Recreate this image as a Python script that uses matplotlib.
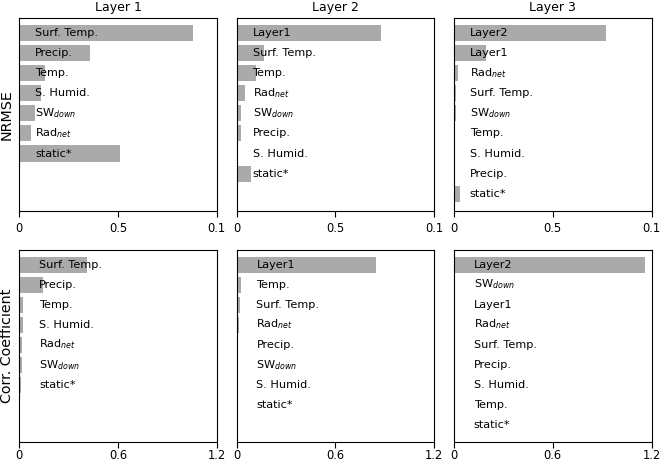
import matplotlib
matplotlib.use('Agg')
import matplotlib.pyplot as plt

# NRMSE per layer (top row), bars listed top to bottom
nrmse_labels_1 = ['Surf. Temp.', 'Precip.', 'Temp.', 'S. Humid.', r'SW$_{down}$', r'Rad$_{net}$', 'static*']
nrmse_values_1 = [0.88, 0.36, 0.13, 0.11, 0.08, 0.06, 0.51]

nrmse_labels_2 = ['Layer1', 'Surf. Temp.', 'Temp.', r'Rad$_{net}$', r'SW$_{down}$', 'Precip.', 'S. Humid.', 'static*']
nrmse_values_2 = [0.73, 0.14, 0.10, 0.04, 0.02, 0.02, 0.0, 0.07]

nrmse_labels_3 = ['Layer2', 'Layer1', r'Rad$_{net}$', 'Surf. Temp.', r'SW$_{down}$', 'Temp.', 'S. Humid.', 'Precip.', 'static*']
nrmse_values_3 = [0.77, 0.16, 0.02, 0.01, 0.01, 0.0, 0.0, 0.0, 0.03]

# Correlation coefficient per layer (bottom row)
corr_labels_1 = ['Surf. Temp.', 'Precip.', 'Temp.', 'S. Humid.', r'Rad$_{net}$', r'SW$_{down}$', 'static*']
corr_values_1 = [0.41, 0.145, 0.024, 0.02, 0.018, 0.018, 0.012]

corr_labels_2 = ['Layer1', 'Temp.', 'Surf. Temp.', r'Rad$_{net}$', 'Precip.', r'SW$_{down}$', 'S. Humid.', 'static*']
corr_values_2 = [0.845, 0.024, 0.018, 0.014, 0.004, 0.0, 0.0, 0.0]

corr_labels_3 = ['Layer2', r'SW$_{down}$', 'Layer1', r'Rad$_{net}$', 'Surf. Temp.', 'Precip.', 'S. Humid.', 'Temp.', 'static*']
corr_values_3 = [1.16, 0.0, 0.0, 0.0, 0.0, 0.0, 0.0, 0.0, 0.0]

titles = ['Layer 1', 'Layer 2', 'Layer 3']
nrmse_ticks = [0, 0.5, 1.0]
nrmse_ticklabels = ['0', '0.5', '0.1']
corr_ticks = [0, 0.6, 1.2]
corr_ticklabels = ['0', '0.6', '1.2']

W, H = 660, 462
fig = plt.figure(figsize=(6.6, 4.62), dpi=100)

lefts = [19.3, 236.7, 454]
axw = 197.5
rows = [(18.3, 210.6), (249.5, 441.7)]

panels = [
    [(nrmse_labels_1, nrmse_values_1), (nrmse_labels_2, nrmse_values_2), (nrmse_labels_3, nrmse_values_3)],
    [(corr_labels_1, corr_values_1), (corr_labels_2, corr_values_2), (corr_labels_3, corr_values_3)],
]

for r, (top, bot) in enumerate(rows):
    for c in range(3):
        ax = fig.add_axes([lefts[c] / W, 1 - bot / H, axw / W, (bot - top) / H])
        labels, values = panels[r][c]
        ypos = list(range(len(labels)))
        ax.barh(ypos, values, height=0.8, color='#aaaaaa')
        xmax = 1.0 if r == 0 else 1.2
        off = 0.08 if r == 0 else 0.12
        for y, lab in zip(ypos, labels):
            ax.text(off, y, lab, va='center', ha='left', fontsize=8.1)
        ax.set_xlim(0, xmax)
        ax.set_ylim(8.85, -0.75)
        ax.set_yticks([])
        if r == 0:
            ax.tick_params(axis='x', length=4, pad=4, labelsize=8.3)
            ax.set_xticks(nrmse_ticks)
            ax.set_xticklabels(nrmse_ticklabels)
            ax.set_title(titles[c], fontsize=9, pad=5)
        else:
            # reference clips these at the bottom edge; keep them just inside
            ax.tick_params(axis='x', length=4, pad=1.5, labelsize=8.3)
            ax.set_xticks(corr_ticks)
            ax.set_xticklabels(corr_ticklabels)
        if c == 0:
            ax.set_ylabel('NRMSE' if r == 0 else 'Corr. Coefficient', fontsize=10.3, labelpad=4)

fig.savefig('out.png', dpi=100)
